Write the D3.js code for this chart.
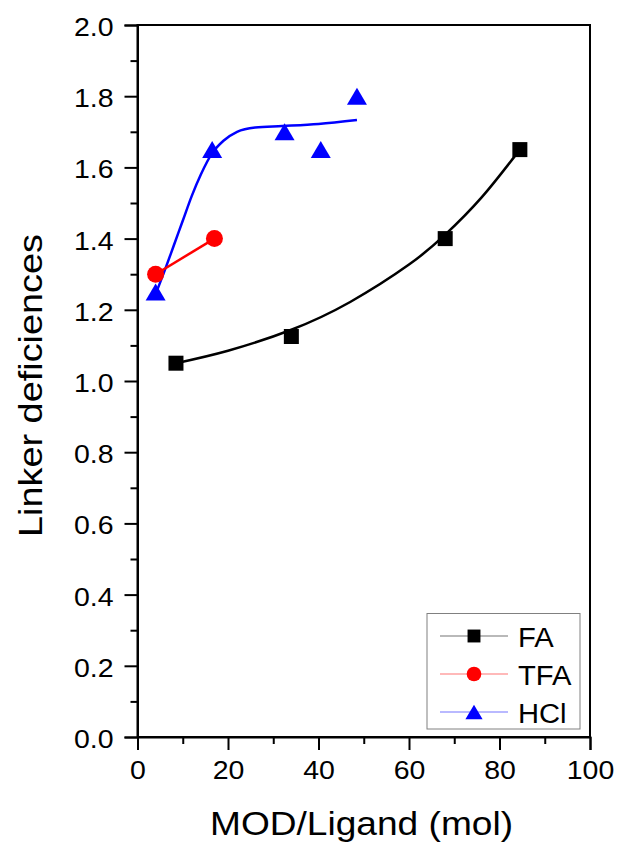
<!DOCTYPE html>
<html>
<head>
<meta charset="utf-8">
<script src="https://cdn.jsdelivr.net/npm/d3@7"></script>
<style>
  html, body { margin: 0; padding: 0; background: #fff; }
  svg { display: block; font-family: "Liberation Sans", Arial, sans-serif; }
</style>
</head>
<body>
<svg id="chart" width="621" height="852"></svg>
<script>
// Measured points
const faX = [8.5, 34, 68, 84.5];
const faY = [1.05, 1.125, 1.40, 1.65];
const tfaX = [4, 17];
const tfaY = [1.30, 1.40];
const hclX = [4, 16.5, 32.5, 40.5, 48.5];
const hclY = [1.25, 1.65, 1.70, 1.65, 1.80];

// Fitted trend curves
const faFitX = [8.5, 20, 34, 47, 60, 68, 76, 84.5];
const faFitY = [1.05, 1.085, 1.144, 1.222, 1.327, 1.411, 1.515, 1.65];
const hclFitX = [4.2, 6, 8, 10, 12, 14, 16.5, 19, 22, 26, 32, 40, 48.5];
const hclFitY = [1.25, 1.31, 1.38, 1.45, 1.52, 1.58, 1.64, 1.675, 1.70, 1.712, 1.716, 1.722, 1.733];

// Axis ticks
const xMajor = [0, 20, 40, 60, 80, 100];
const xMinor = [10, 30, 50, 70, 90];
const yMajor = [0, 0.2, 0.4, 0.6, 0.8, 1.0, 1.2, 1.4, 1.6, 1.8, 2.0];
const yMinor = [0.1, 0.3, 0.5, 0.7, 0.9, 1.1, 1.3, 1.5, 1.7, 1.9];

const legendNames = ["FA", "TFA", "HCl"];
const colors = { FA: "#000000", TFA: "#ff0000", HCl: "#0000ff" };

const svg = d3.select("#chart");
const L = 137.5, R = 590, T = 25, B = 737;
const x = d3.scaleLinear().domain([0, 100]).range([L, R]);
const y = d3.scaleLinear().domain([0, 2.0]).range([B, T]);

const STRETCH = 1.14;
function widen(sel, factor) {
  sel.each(function () {
    const w = this.getComputedTextLength();
    d3.select(this).attr("textLength", w * factor).attr("lengthAdjust", "spacingAndGlyphs");
  });
}

// Frame
svg.append("rect").attr("x", L).attr("y", T).attr("width", R - L).attr("height", B - T)
  .attr("fill", "none").attr("stroke", "#000").attr("stroke-width", 2);

// X axis
const xAxis = svg.append("g").attr("transform", `translate(0,${B})`)
  .call(d3.axisBottom(x).tickValues(xMajor).tickSize(13).tickPadding(11).tickFormat(d3.format("d")));
svg.append("g").attr("transform", `translate(0,${B})`)
  .call(d3.axisBottom(x).tickValues(xMinor).tickSize(7).tickFormat(""))
  .call(g => g.select(".domain").remove());

// Y axis
const yAxis = svg.append("g").attr("transform", `translate(${L},0)`)
  .call(d3.axisLeft(y).tickValues(yMajor).tickSize(13).tickPadding(11).tickFormat(d3.format(".1f")));
svg.append("g").attr("transform", `translate(${L},0)`)
  .call(d3.axisLeft(y).tickValues(yMinor).tickSize(7).tickFormat(""))
  .call(g => g.select(".domain").remove());

svg.selectAll(".tick line").attr("stroke", "#000").attr("stroke-width", 2);
svg.selectAll(".domain").attr("stroke", "#000").attr("stroke-width", 2);
xAxis.selectAll("text").attr("font-size", 25).attr("fill", "#000")
  .attr("font-family", "Liberation Sans, Arial, sans-serif");
yAxis.selectAll("text").attr("font-size", 25).attr("fill", "#000")
  .attr("font-family", "Liberation Sans, Arial, sans-serif").attr("dy", "0.42em");
widen(xAxis.selectAll("text"), STRETCH);
widen(yAxis.selectAll("text"), STRETCH);

// Axis titles
const xt = svg.append("text").attr("x", 361.5).attr("y", 835).attr("text-anchor", "middle")
  .attr("font-size", 34).text("MOD/Ligand (mol)");
xt.attr("textLength", 303).attr("lengthAdjust", "spacingAndGlyphs");
const yt = svg.append("text").attr("transform", "translate(42,385.5) rotate(-90)")
  .attr("text-anchor", "middle").attr("font-size", 34).text("Linker deficiences");
yt.attr("textLength", 303).attr("lengthAdjust", "spacingAndGlyphs");

// Curves
const line = d3.line().x(d => x(d[0])).y(d => y(d[1]));
const natural = d3.line().x(d => x(d[0])).y(d => y(d[1])).curve(d3.curveNatural);
const smooth = d3.line().x(d => x(d[0])).y(d => y(d[1])).curve(d3.curveMonotoneX);

svg.append("path").datum(d3.zip(faFitX, faFitY)).attr("d", natural)
  .attr("fill", "none").attr("stroke", colors.FA).attr("stroke-width", 2.5);
svg.append("path").datum(d3.zip(hclFitX, hclFitY)).attr("d", smooth)
  .attr("fill", "none").attr("stroke", colors.HCl).attr("stroke-width", 2.5);
svg.append("path").datum(d3.zip(tfaX, tfaY)).attr("d", line)
  .attr("fill", "none").attr("stroke", colors.TFA).attr("stroke-width", 2.5);

// Marker shapes
function trianglePath(w, h) {
  return `M0,${-h / 2}L${w / 2},${h / 2}L${-w / 2},${h / 2}Z`;
}
function drawMarker(g, name, cx, cy, scale) {
  if (name === "FA") {
    const s = 15 * scale;
    g.append("rect").attr("x", cx - s / 2).attr("y", cy - s / 2).attr("width", s).attr("height", s)
      .attr("fill", colors.FA);
  } else if (name === "TFA") {
    g.append("circle").attr("cx", cx).attr("cy", cy).attr("r", 8.5 * scale).attr("fill", colors.TFA);
  } else {
    g.append("path").attr("transform", `translate(${cx},${cy})`)
      .attr("d", trianglePath(20 * scale, 17 * scale)).attr("fill", colors.HCl);
  }
}

const marks = svg.append("g");
d3.zip(faX, faY).forEach(d => drawMarker(marks, "FA", x(d[0]), y(d[1]), 1));
d3.zip(tfaX, tfaY).forEach(d => drawMarker(marks, "TFA", x(d[0]), y(d[1]), 1));
d3.zip(hclX, hclY).forEach(d => drawMarker(marks, "HCl", x(d[0]), y(d[1]), 1));

// Legend
const lg = svg.append("g");
lg.append("rect").attr("x", 427).attr("y", 613.5).attr("width", 153).attr("height", 115.5)
  .attr("fill", "#fff").attr("stroke", "#808080").attr("stroke-width", 1);
legendNames.forEach((name, i) => {
  const ry = 636 + i * 38;
  lg.append("line").attr("x1", 440).attr("x2", 508).attr("y1", ry).attr("y2", ry)
    .attr("stroke", colors[name]).attr("stroke-opacity", 0.55).attr("stroke-width", 1.2);
  drawMarker(lg, name, 474, ry, 0.86);
  const t = lg.append("text").attr("x", 518).attr("y", ry + 10.5).attr("font-size", 27)
    .attr("fill", "#000").text(name);
  widen(t, 1.08);
});
</script>
</body>
</html>
